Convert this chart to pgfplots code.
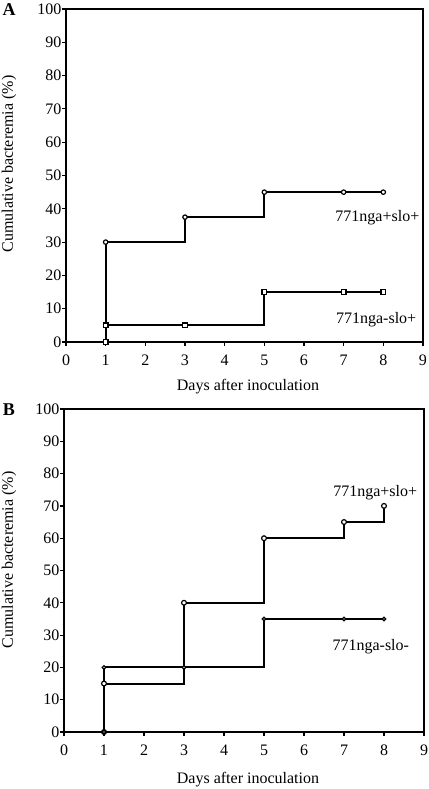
\documentclass[border=0pt]{standalone}
\usepackage{fontspec}
\setmainfont{Liberation Serif}
\usepackage{pgfplots}
\pgfplotsset{compat=1.18}
\pgfplotsset{
  panel/.style={
    scale only axis,
    xmin=0, xmax=9, ymin=0, ymax=100,
    xtick={0,1,...,9}, ytick={0,10,...,100},
    tick pos=left, tick align=outside,
    major tick length=4pt,
    axis line style={line width=1.8pt},
    tick style={black, line width=1.2pt},
    /pgf/number format/assume math mode=true,
    every tick label/.append style={font=\fontsize{16}{19}\selectfont},
    yticklabel style={inner sep=0pt, xshift=-0.5pt},
    xticklabel style={yshift=-3pt},
    every axis plot/.append style={black, line width=2pt},
    clip=false,
  }
}
\begin{document}
\fontsize{16}{19}\selectfont
\begin{tikzpicture}[font=\fontsize{16}{19}\selectfont]
\path[use as bounding box] (0pt,0pt) rectangle (428pt,-789pt);
% Panel A
\begin{axis}[panel, at={(66pt,-9pt)}, anchor=north west, width=357pt, height=333pt]
\addplot[const plot, mark=*, mark options={solid, fill=white, line width=1.2pt, scale=1.1}]
  coordinates {(1,0) (1,30) (3,37.5) (5,45) (7,45) (8,45)};
\addplot[const plot, mark=square*, mark options={solid, fill=white, line width=1.2pt, scale=1.2}]
  coordinates {(1,0) (1,5) (3,5) (5,15) (7,15) (8,15)};
\node at (axis cs:7.85,37.4) {771nga+slo+};
\node at (axis cs:7.82,6.6) {771nga-slo+};
\end{axis}
% Panel B
\begin{axis}[panel, at={(64pt,-409pt)}, anchor=north west, width=360pt, height=323pt]
\addplot[const plot, mark=*, mark options={solid, fill=white, line width=1.2pt, scale=1.2}]
  coordinates {(1,0) (1,15) (3,40) (5,60) (7,65) (8,70)};
\addplot[const plot, mark=*, mark options={solid, fill=white, line width=1.2pt, scale=0.9}]
  coordinates {(1,0) (1,20) (3,20) (5,35) (7,35) (8,35)};
\node at (axis cs:7.78,74) {771nga+slo+};
\node at (axis cs:7.67,26.3) {771nga-slo-};
\end{axis}
\node[font=\fontsize{18}{20}\selectfont\bfseries] at (9pt,-10pt) {A};
\node[font=\fontsize{18}{20}\selectfont\bfseries] at (9pt,-410pt) {B};
\node[rotate=90] at (9pt,-164pt) {Cumulative bacteremia (\%)};
\node[rotate=90] at (9pt,-560pt) {Cumulative bacteremia (\%)};
\node at (248pt,-387pt) {Days after inoculation};
\node at (248pt,-780pt) {Days after inoculation};
\end{tikzpicture}
\end{document}
